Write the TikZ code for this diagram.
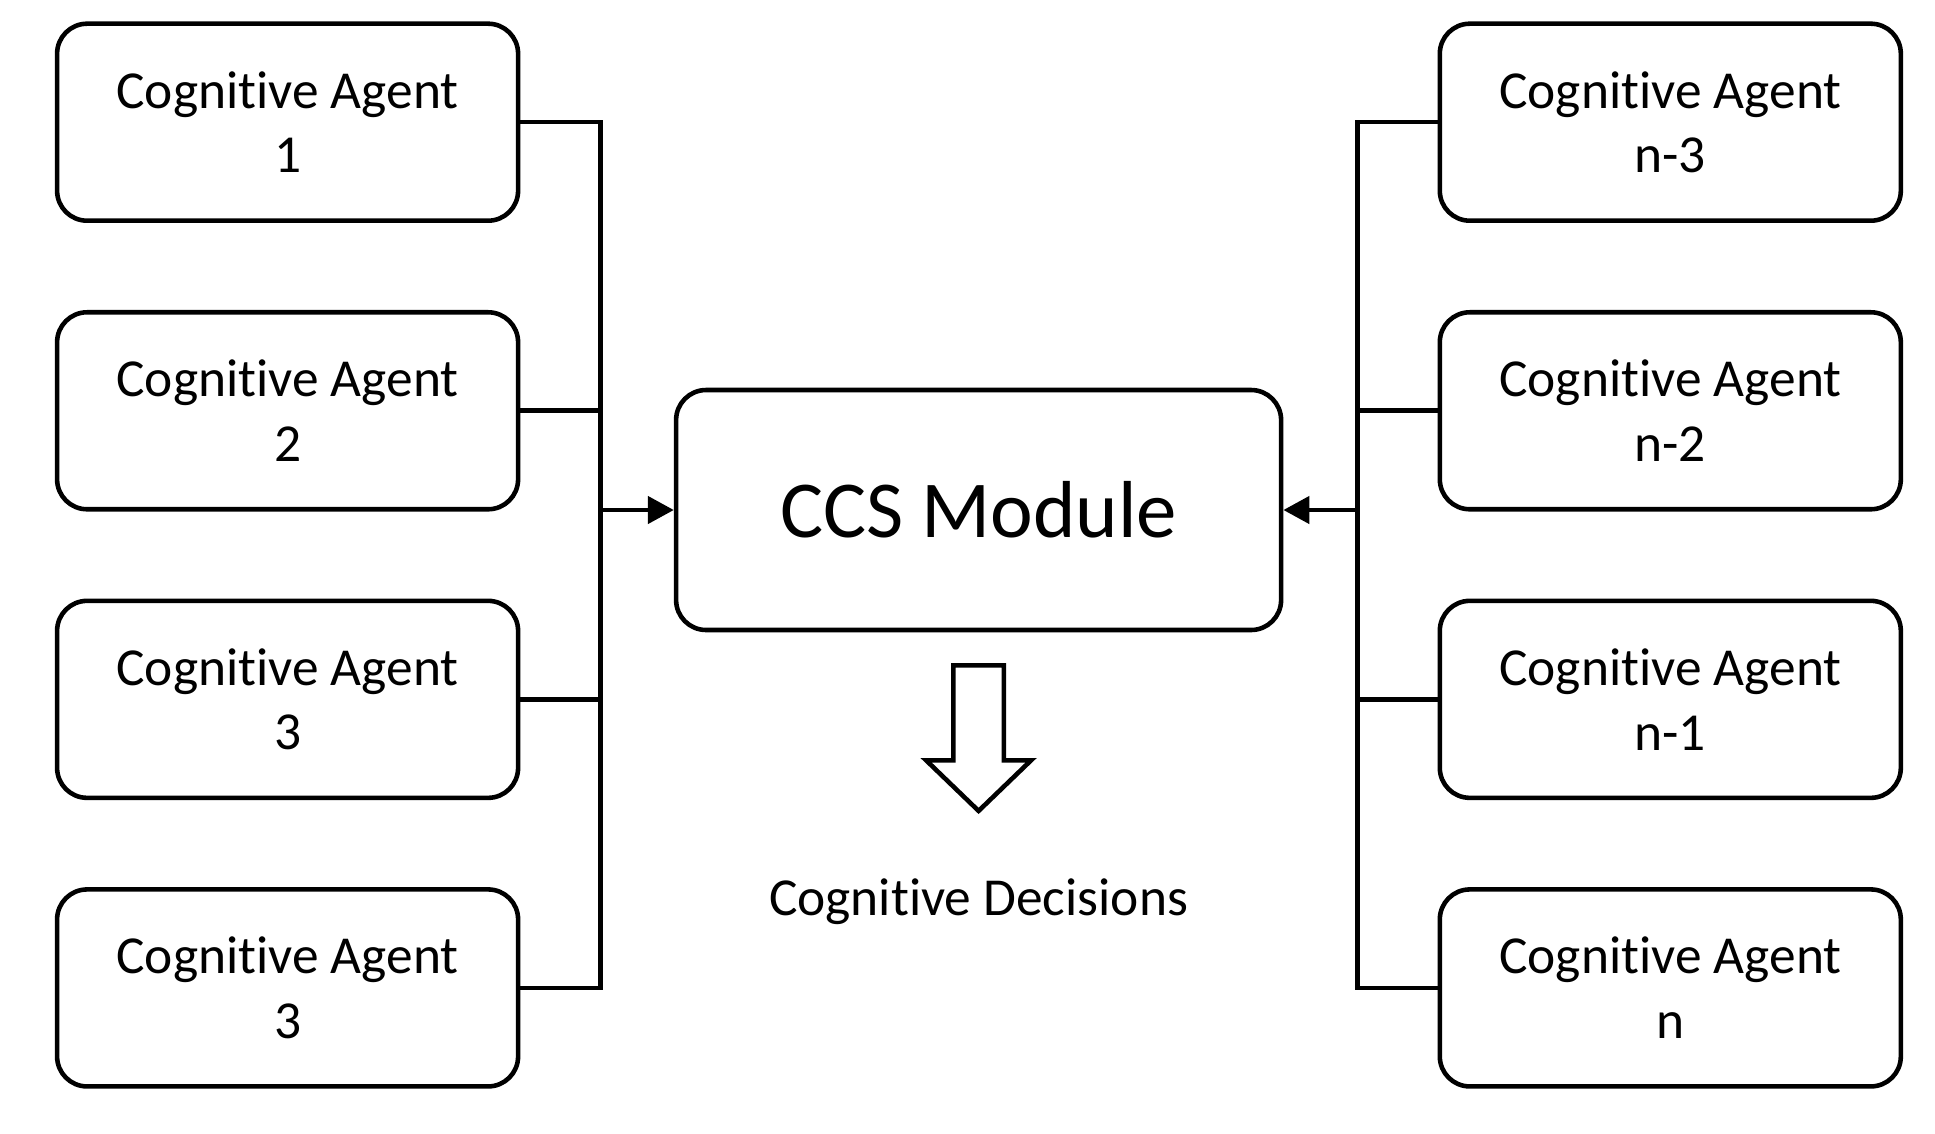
\documentclass[tikz,border=0pt]{standalone}
\usepackage{fontspec}
\setmainfont{Carlito}[Ligatures=NoCommon]
\usetikzlibrary{arrows.meta,positioning,calc}

\begin{document}
\begin{tikzpicture}[
      agent/.style={draw, line width=1.3pt, rounded corners=0.3cm, align=center, minimum width=4.61cm, minimum height=1.97cm, font=\fontsize{15.2}{18.4}\selectfont},
      module/.style={draw, line width=1.3pt, rounded corners=0.3cm, align=center, minimum width=6.05cm, minimum height=2.4cm, font=\fontsize{23}{27}\selectfont},
      wire/.style={line width=1.3pt},
      arrow/.style={-{Triangle[length=2.6mm, width=2.7mm]}, line width=1.3pt},
      hollow/.style={draw, line width=1.3pt, line join=miter}
    ]
    \useasboundingbox (0,0) rectangle (19.35,11.33);
    % left column
    \node[agent] (agent1) at (2.876,10.108) {Cognitive Agent\\1};
    \node[agent, below=0.87cm of agent1] (agent2) {Cognitive Agent\\2};
    \node[agent, below=0.87cm of agent2] (agent3) {Cognitive Agent\\3};
    \node[agent, below=0.87cm of agent3] (agent4) {Cognitive Agent\\3};
    % right column
    \node[agent] (agentn3) at (16.703,10.108) {Cognitive Agent\\n-3};
    \node[agent, below=0.87cm of agentn3] (agentn2) {Cognitive Agent\\n-2};
    \node[agent, below=0.87cm of agentn2] (agentn1) {Cognitive Agent\\n-1};
    \node[agent, below=0.87cm of agentn1] (agentn) {Cognitive Agent\\n};
    % module
    \node[module] (ccs) at (9.786,6.23) {CCS Module};
    \coordinate[right=0.8cm of agent1.east] (lbus);
    \coordinate[left=0.8cm of agentn3.west] (rbus);
    \draw[wire] (agent1.east) -- (lbus) -- (lbus |- agent4.east) -- (agent4.east);
    \draw[wire] (agentn3.west) -- (rbus) -- (rbus |- agentn.west) -- (agentn.west);
    \foreach \a in {agent2,agent3} {
      \draw[wire] (\a.east) -- (\a.east -| lbus);
    }
    \foreach \a in {agentn2,agentn1} {
      \draw[wire] (\a.west) -- (\a.west -| rbus);
    }
    \draw[arrow] (lbus |- ccs.west) -- (ccs.west);
    \draw[arrow] (rbus |- ccs.east) -- (ccs.east);
    % output
    \coordinate[below=0.33cm of ccs.south] (arrtop);
    \draw[hollow] ($(arrtop)+(-0.253,0)$) -- ++(0,-0.95) -- ++(-0.272,0)
      -- ($(arrtop)+(0,-1.456)$) -- ($(arrtop)+(0.525,-0.95)$) -- ++(-0.272,0)
      -- ($(arrtop)+(0.253,0)$) -- cycle;
    \node[font=\fontsize{15.2}{18.4}\selectfont] (decisions) at (9.786,2.31) {Cognitive Decisions};
  \end{tikzpicture}
\end{document}
